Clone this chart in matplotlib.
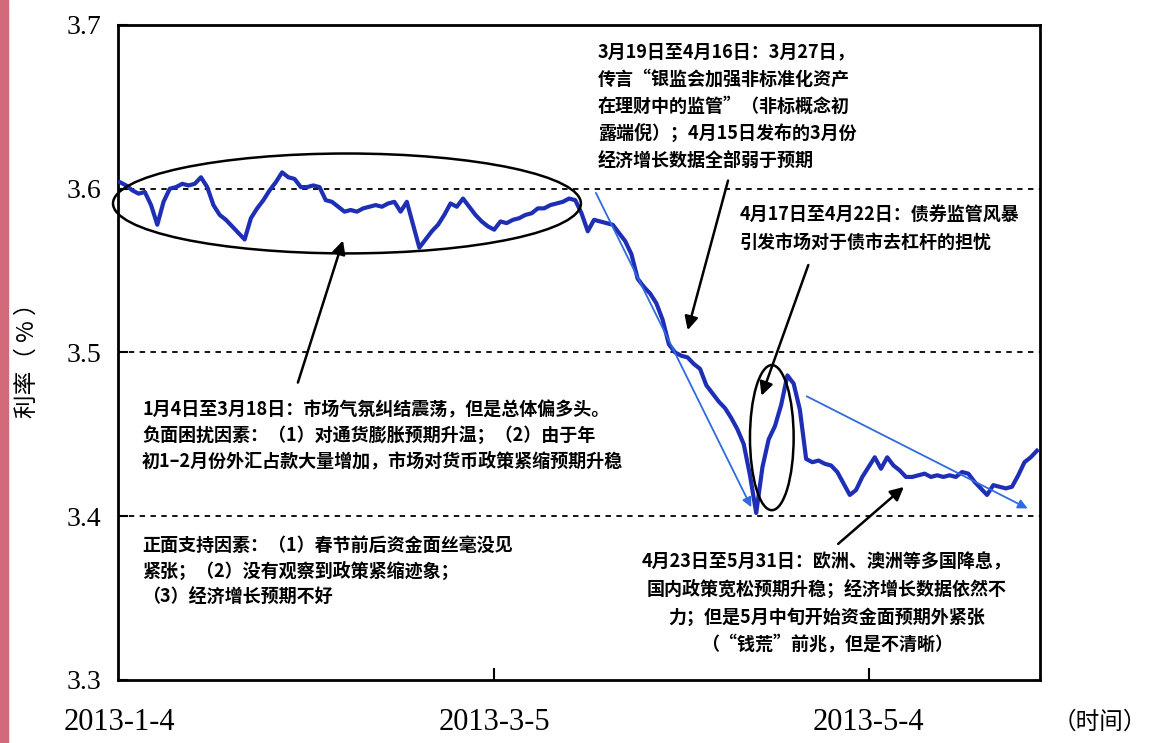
import pandas as pd
import matplotlib.pyplot as plt
import matplotlib.dates as mdates
from matplotlib.patches import Ellipse, Rectangle

plt.rcParams['font.family'] = ['Noto Sans CJK SC', 'DejaVu Sans']

# daily yield readings (%) starting 2013-01-04
start = '2013-01-04'
rates = [
    3.604, 3.602, 3.599, 3.597, 3.598, 3.590, 3.578, 3.592, 3.600, 3.601,
    3.603, 3.602, 3.603, 3.607, 3.601, 3.590, 3.584, 3.581, 3.577, 3.573,
    3.569, 3.582, 3.588, 3.593, 3.599, 3.604, 3.610, 3.607, 3.606, 3.601,
    3.601, 3.602, 3.601, 3.593, 3.592, 3.589, 3.586, 3.587, 3.586, 3.588,
    3.589, 3.590, 3.589, 3.591, 3.592, 3.586, 3.592, 3.578, 3.564, 3.569,
    3.574, 3.578, 3.584, 3.591, 3.589, 3.594, 3.589, 3.584, 3.580, 3.577,
    3.575, 3.580, 3.579, 3.581, 3.582, 3.584, 3.585, 3.588, 3.588, 3.590,
    3.591, 3.592, 3.594, 3.593, 3.585, 3.574, 3.581, 3.580, 3.579, 3.578,
    3.573, 3.568, 3.560, 3.545, 3.540, 3.536, 3.530, 3.520, 3.505, 3.500,
    3.498, 3.497, 3.493, 3.490, 3.480, 3.475, 3.470, 3.466, 3.460, 3.453,
    3.444, 3.425, 3.402, 3.430, 3.447, 3.455, 3.468, 3.486, 3.481, 3.465,
    3.435, 3.433, 3.434, 3.432, 3.431, 3.427, 3.420, 3.413, 3.416, 3.424,
    3.430, 3.436, 3.429, 3.436, 3.431, 3.428, 3.424, 3.424, 3.425, 3.426,
    3.424, 3.425, 3.424, 3.425, 3.424, 3.427, 3.426, 3.421, 3.417, 3.413,
    3.419, 3.418, 3.417, 3.418, 3.425, 3.433, 3.436, 3.440,
]
dates = pd.date_range(start, periods=len(rates), freq='D')

tick_dates = ['2013-01-04', '2013-03-05', '2013-05-04']
tick_labels = ['2013-1-4', '2013-3-5', '2013-5-4']
yticks = [3.3, 3.4, 3.5, 3.6, 3.7]
dashed_levels = [3.4, 3.5, 3.6]

note_mar = ['3月19日至4月16日：3月27日，',
            '传言“银监会加强非标准化资产',
            '在理财中的监管”（非标概念初',
            '露端倪）；4月15日发布的3月份',
            '经济增长数据全部弱于预期']
note_apr = ['4月17日至4月22日：债券监管风暴',
            '引发市场对于债市去杠杆的担忧']
note_jan = ['1月4日至3月18日：市场气氛纠结震荡，但是总体偏多头。',
            '负面困扰因素：（1）对通货膨胀预期升温；（2）由于年',
            '初1–2月份外汇占款大量增加，市场对货币政策紧缩预期升稳']
note_pos = ['正面支持因素：（1）春节前后资金面丝毫没见',
            '紧张；（2）没有观察到政策紧缩迹象；',
            '（3）经济增长预期不好']
note_may = ['4月23日至5月31日：欧洲、澳洲等多国降息，',
            '国内政策宽松预期升稳；经济增长数据依然不',
            '力；但是5月中旬开始资金面预期外紧张',
            '（“钱荒”前兆，但是不清晰）']

W, H = 1149, 743
fig = plt.figure(figsize=(W / 100, H / 100), dpi=100)
ax = fig.add_axes([0.1027, 0.0848, 0.8025, 0.8816])

t0 = mdates.date2num(pd.Timestamp(start))


def d(n):
    return t0 + n


ax.plot(dates, rates, color='#1f2fb5', lw=3, solid_joinstyle='round', zorder=3)

for lv in dashed_levels:
    ax.axhline(lv, color='black', lw=1.3, ls=(0, (3, 3)), zorder=1)

# ellipses around the two key phases
ax.add_patch(Ellipse((d(36.4), 3.591), 75, 0.061, fill=False, ec='black', lw=1.8,
                     zorder=4, clip_on=False))
ax.add_patch(Ellipse((d(104.5), 3.448), 7.0, 0.0886, fill=False, ec='black', lw=1.8, zorder=4))

# blue trend arrows
for (x0, y0), (x1, y1) in [((76.1, 3.599), (101.4, 3.404)), ((109.7, 3.474), (145.9, 3.404))]:
    ax.annotate('', xy=(d(x1), y1), xytext=(d(x0), y0),
                arrowprops=dict(arrowstyle='-|>', color='#2f6ae0', lw=1.3, mutation_scale=14), zorder=4)

# black pointer arrows from notes
for (x0, y0), (x1, y1) in [((28.4, 3.480), (35.9, 3.570)), ((97.6, 3.6066), (90.9, 3.512)),
                           ((110.5, 3.555), (102.7, 3.472)), ((114.8, 3.382), (126.0, 3.419))]:
    ax.annotate('', xy=(d(x1), y1), xytext=(d(x0), y0),
                arrowprops=dict(arrowstyle='-|>', color='black', lw=1.8, mutation_scale=20), zorder=5)

ax.set_xlim(d(-0.3), d(147.5))
ax.set_ylim(3.3, 3.7)
ax.set_yticks(yticks)
ax.set_yticklabels([f'{v:.1f}' for v in yticks], fontfamily='Liberation Serif', fontsize=20)
ax.set_xticks(pd.to_datetime(tick_dates))
ax.set_xticklabels(tick_labels, fontfamily='Liberation Serif', fontsize=22)
ax.tick_params(axis='y', direction='in', length=7, width=1.5, pad=12)
ax.tick_params(axis='x', direction='in', length=9, width=1.5, pad=20)
ax.xaxis.get_major_ticks()[0].tick1line.set_visible(False)
for s in ax.spines.values():
    s.set_linewidth(2)

fig.text(27 / W, 1 - 355 / H, '利率（ % ）', fontsize=17, rotation=90, ha='center', va='center')
fig.text(1100 / W, 1 - 722 / H, '（时间）', fontsize=17, ha='center', va='center')


def block(lines, x, y0, step, ha='left'):
    for i, line in enumerate(lines):
        fig.text(x / W, 1 - (y0 + i * step) / H, line, fontsize=13, fontweight='bold',
                 ha=ha, va='center', zorder=6)


block(note_mar, 598, 52, 27)
block(note_apr, 740, 215, 27)
block(note_jan, 142, 410, 25.5)
block(note_pos, 142, 545, 26)
block(note_may, 827, 562, 27.7, ha='center')

fig.patches.append(Rectangle((0, 0), 8 / W, 1, transform=fig.transFigure, color='#d26a7c', zorder=0))

fig.savefig('out.png', dpi=100)
